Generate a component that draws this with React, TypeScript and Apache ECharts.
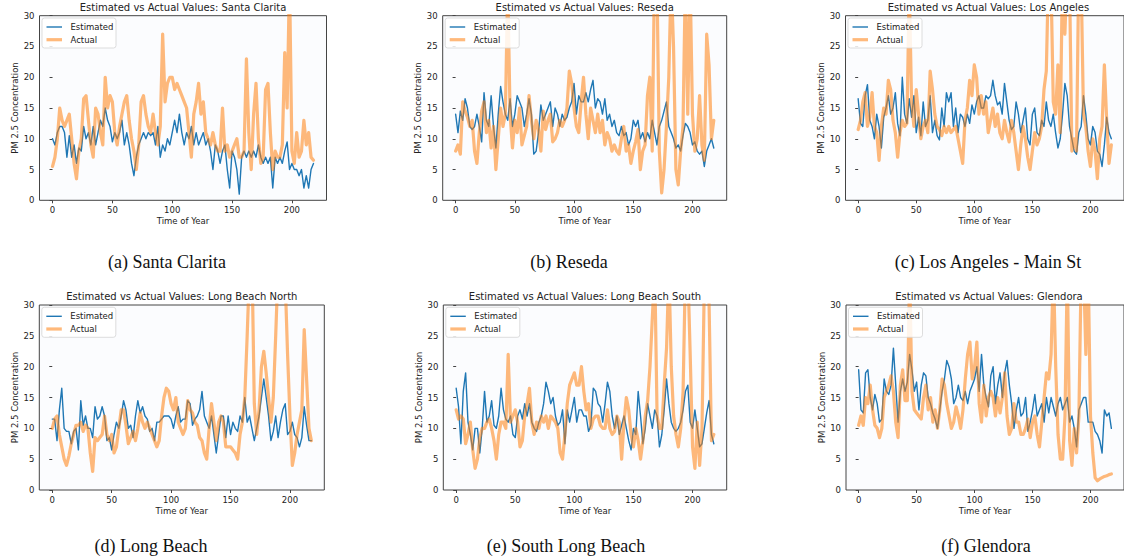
import React, { useEffect, useRef } from 'react';
import * as echarts from 'echarts';

// time step between samples (day index)
const STEP = 2;
const X_TICKS = [0, 50, 100, 150, 200];
const Y_MIN = 0;
const Y_MAX = 30;
const Y_INTERVAL = 5;

// (a) Santa Clarita
const EST_A = [
  10, 9, 11, 12, 12, 11, 7, 10.5, 7, 9,
  6, 8.5, 8, 12, 10, 11, 9, 12, 9, 11,
  13, 12, 15, 13, 12, 9.5, 11, 10, 11, 13,
  9, 11, 9, 6, 4, 7, 9, 10, 11, 10,
  11, 10.5, 11, 9, 12, 7, 9, 8, 10, 9,
  11, 13, 11, 14, 11, 9, 11, 10, 12, 9,
  11, 9, 10, 11, 9, 10, 8, 5, 9, 8,
  6, 8, 9, 5, 2, 8, 7, 5, 1, 7,
  8, 7, 8, 7, 8, 7, 9, 7, 6, 7,
  6, 7, 2, 7, 6, 7, 6, 8, 9.5, 5,
  6, 5, 5, 4, 5, 2, 4, 2, 5, 6,
];
const ACT_A = [
  5.5, 7, 10, 15, 13, 12, 13, 14, 10, 6,
  3.5, 8, 10, 16.5, 17, 13, 9, 7, 15, 14,
  11, 9, 20, 15, 17, 16, 11, 9, 12, 14,
  16, 17, 13, 10, 8, 5, 9, 16, 17, 14,
  12, 11, 14, 11, 9, 12, 27, 16, 19, 20,
  20, 18, 19, 18, 17, 16, 15, 11, 7, 14,
  16, 19, 14, 16, 11, 10, 9, 11, 9, 8,
  8, 15, 8, 9, 7, 8, 9, 10, 7, 7,
  8, 23, 11, 5, 14, 19, 10, 6, 7, 18,
  19, 11, 5, 8, 7, 7, 9, 24, 15, 36,
  8, 6, 11, 7, 8, 13, 9, 11, 7, 6.5,
];

// (b) Reseda
const EST_B = [
  14, 11, 14.5, 13, 16.5, 15, 12, 11.5, 12, 14,
  12, 9.5, 17.5, 13, 12, 17, 12, 8.5, 14, 18.5,
  16, 14, 13, 16.5, 12, 14, 17, 16, 15, 12,
  14, 16.5, 14, 7.5, 8, 11, 15.5, 13, 14, 15,
  16, 12, 15, 14, 12, 14, 13, 13.5, 15, 16,
  19, 14, 17, 16, 16, 17.5, 16, 18, 19.5, 15,
  16.5, 16, 14, 16.5, 13, 14, 12, 13, 11, 10.5,
  12, 10.5, 11, 9, 10, 13, 12, 13, 10, 11,
  9.5, 11, 10, 13, 11, 9, 12, 13, 14.5, 16,
  12, 11, 10, 8.5, 9, 8, 10.5, 12.5, 12, 11,
  9, 9.5, 8, 7.5, 8, 5.5, 8, 9, 10, 8.5,
];
const ACT_B = [
  8, 9, 7.5, 16, 14.5, 13.5, 12, 13, 8, 6,
  11, 14.5, 16, 11, 13, 8.5, 12, 5, 10, 15,
  12, 14, 35, 14, 8.5, 13, 11, 15, 9, 10.5,
  12, 17, 13, 10, 13, 11.5, 8, 14.5, 11.5, 13,
  14, 9.5, 10, 11, 13, 12, 13, 15, 21, 19,
  15, 12, 11, 16, 20, 14, 10, 15, 13, 11,
  14, 11, 13, 9, 11, 10, 8, 9, 8, 7.5,
  10, 12, 8, 9, 6, 8, 9.5, 11.5, 5, 8,
  9, 17, 20, 8, 38, 36, 8, 1.2, 5, 12,
  20, 36, 25, 5, 2.5, 8, 12, 36, 14, 36,
  14, 8, 10, 17, 9, 6.5, 27, 22, 10, 13,
];

// (c) Los Angeles - Main St
const EST_C = [
  16.5, 12.5, 12, 17, 18.8, 13, 12, 10, 14, 12,
  8.5, 13.5, 15, 17, 14, 15, 17.5, 12.5, 10.5, 20,
  14, 12.5, 16.5, 13.5, 17, 11, 13.5, 10.5, 16, 12,
  13, 17, 11, 13, 10.5, 9.8, 15, 12, 17.5, 16,
  17.5, 12, 15, 11, 14, 13.5, 12, 14, 12.5, 15.5,
  14, 16, 17, 15, 15, 17, 16.5, 17, 19.5, 17,
  15.5, 16, 14, 19, 16, 13, 11.5, 12, 16, 14,
  11, 13, 15, 10, 9, 14, 15, 11, 10.5, 13,
  12, 16, 13, 12, 14, 11, 8.5, 10, 14, 19,
  17, 12, 10, 8, 7.5, 11, 12, 17, 14, 10,
  9, 12, 11, 8, 7.5, 5.5, 9, 13.5, 11, 10,
];
const ACT_C = [
  11.5, 13, 16, 17.5, 12, 13.5, 17.5, 12, 11, 6.5,
  12, 15, 14, 19.5, 18, 13, 11, 7, 11, 13,
  12, 12.5, 35, 16, 12, 18, 14, 10, 12, 13,
  11, 21, 18, 14, 12, 11.5, 10.5, 12, 11, 12,
  11, 11.5, 12, 10, 8, 6, 13, 15, 19.5, 17,
  22, 20, 14, 17, 14, 16, 11, 13, 15, 12,
  14, 11, 10, 13, 11, 9.5, 13, 11, 8, 5,
  9, 12, 10, 7, 5, 8, 11, 9, 10, 12,
  18, 21, 38, 36, 16, 14, 22, 11, 38, 27,
  38, 36, 8, 10, 8, 38, 36, 14, 12, 8,
  5.5, 10, 8, 3.5, 10, 12, 22, 13, 6, 9,
];

// (d) Long Beach
const EST_D = [
  11.5, 11.5, 8, 13, 16.5, 10, 9.5, 9.5, 7.5, 9.5,
  10, 6.5, 14.5, 10.5, 12, 10, 10, 8.5, 13.5, 11.5,
  12, 13.5, 12, 8, 8.5, 6.5, 9, 11, 10, 12,
  14.5, 13, 10, 10.5, 8.5, 12, 14.5, 12.5, 13.5, 12,
  11.5, 9.5, 10, 8, 11, 11, 11.5, 12, 12, 12,
  11.5, 10, 12, 13.5, 11, 11.5, 11.5, 14.5, 14, 10.5,
  11.5, 12, 13, 16, 12, 11, 10, 12, 9, 6,
  9, 12, 12, 8.5, 12, 9, 11, 10, 9.5, 12,
  11, 15, 11, 12, 10, 8, 10, 12, 15, 18,
  15, 12, 8, 9.5, 12, 8.5, 11, 13, 14, 9,
  9.5, 11, 9, 8.5, 7, 8.5, 13.5, 10.5, 8, 8,
];
const ACT_D = [
  10, 11.5, 12, 9, 7, 5, 4, 5.5, 7.5, 9,
  10.5, 10.5, 11, 9.5, 10.5, 10, 6, 3, 8.5, 8,
  8.5, 9, 12, 9, 8, 9, 6, 7, 10, 13,
  13, 10.5, 7.5, 8.5, 9.5, 8, 10, 12.5, 11, 10,
  11, 10, 9, 8, 7, 8, 12, 15, 16.5, 16,
  14, 13, 15, 11, 10, 9, 10, 14.5, 13, 12.5,
  11, 10.5, 8.5, 8, 6, 5, 10, 14, 11, 8,
  11, 12, 11, 7, 7, 7, 6.5, 6, 5, 9,
  11, 15, 25, 36, 38, 14, 9, 13, 20, 22.5,
  19, 15, 11, 15, 25, 36, 38, 36, 34, 22,
  12, 4, 6, 9, 11, 13, 26, 18, 10, 8,
];

// (e) South Long Beach
const EST_E = [
  16.5, 13.5, 7.5, 16, 19, 11, 9, 6.5, 10, 10,
  6, 10, 16, 11, 12, 14.5, 10.5, 10, 12, 16.5,
  13, 11.5, 11, 12, 9, 8.5, 12, 13, 11.5, 14,
  12, 14, 11, 10, 9.5, 11, 12, 14, 17.5, 16,
  14, 15, 12, 10.5, 11, 13, 7.5, 13, 11, 13,
  15, 11, 13, 13, 12, 12, 9.5, 10.5, 16.5, 16,
  14, 13.5, 11, 14, 17.5, 16, 12, 10, 12, 9,
  10.5, 12, 10, 8, 6.5, 10, 9, 16, 12, 7.5,
  10, 14, 12, 10, 13, 12, 7, 9, 13, 18,
  14, 11, 10, 9.5, 10, 11, 13, 16, 17, 11,
  10, 13, 10, 7, 7.5, 10, 12.5, 14.5, 9, 7.5,
];
const ACT_E = [
  13, 11.5, 12, 11.5, 7.5, 9, 11, 6.5, 3.5, 5,
  8.5, 10, 10, 11, 11.5, 10, 8, 5, 9, 11,
  11, 10, 22, 11, 12, 13, 11, 7, 8, 12,
  14, 16.5, 11, 9, 11, 10, 12, 11, 12, 10,
  12, 11.5, 11, 10, 6, 5, 9, 14, 17, 18,
  19, 17, 17, 20, 16, 13, 14, 10, 11.5, 12,
  12, 10.5, 10, 10, 13, 10, 9, 9.5, 12, 11,
  5, 11, 15, 13, 9, 7, 10, 8, 5, 8,
  12, 14.5, 20, 28, 36, 12, 10, 10, 17, 23,
  36, 20, 12, 9, 7, 10, 16, 36, 36, 22,
  7, 3.5, 11, 4, 10, 34, 38, 30, 8, 9,
];

// (f) Glendora
const EST_F = [
  19.5, 13, 12.5, 19, 19.5, 15, 13, 15.5, 14, 11,
  11.5, 18, 16, 15.5, 17, 23, 17, 11, 16, 18,
  16, 17.5, 22, 19.5, 16, 17.5, 13, 17, 19, 18.5,
  15, 14, 12.5, 11.5, 10, 13, 16, 18, 21, 20,
  18, 14, 15, 17, 15, 14.5, 16, 14, 16, 17,
  18, 20, 16, 22, 17, 15, 13.5, 18.5, 20, 14,
  17, 19, 15, 19, 21, 17, 14, 10, 13, 15,
  12, 12.5, 15, 9.5, 11, 13, 15.5, 12, 13, 14,
  11, 15, 12.5, 15, 13.5, 12, 14, 15, 13, 14,
  15, 11, 12, 10, 7, 13, 14, 15, 15, 11,
  11, 11, 9.5, 9, 8, 6, 13, 12, 12.5, 10,
];
const ACT_F = [
  10.5, 12, 10.5, 15, 14, 17, 13, 10.5, 10, 8.5,
  10, 15, 16, 17, 18.5, 16, 11, 8.5, 17, 19.5,
  14.5, 14.5, 35, 16, 13, 12.5, 12, 11.5, 15, 17,
  13, 15, 11, 13, 10, 13, 18, 17, 14, 12,
  10, 11, 13.5, 12, 10, 13, 18, 22, 24, 18,
  20, 24, 14, 11, 17, 12, 15, 16, 15, 12,
  15, 12.5, 15, 19, 12, 9, 10, 14, 11, 11,
  9, 9, 10, 11.5, 8.5, 11, 12, 9, 7, 11,
  15, 19, 18, 22, 36, 20, 9, 5, 5, 12,
  36, 8, 4, 10, 6, 12, 36, 36, 22, 36,
  12, 6, 2, 1.5, 1.8, 2, 2.2, 2.3, 2.5, 2.6,
];

const PANELS = [
  { title: 'Estimated vs Actual Values: Santa Clarita', caption: '(a) Santa Clarita', est: EST_A, act: ACT_A },
  { title: 'Estimated vs Actual Values: Reseda', caption: '(b) Reseda', est: EST_B, act: ACT_B },
  { title: 'Estimated vs Actual Values: Los Angeles', caption: '(c) Los Angeles - Main St', est: EST_C, act: ACT_C },
  { title: 'Estimated vs Actual Values: Long Beach North', caption: '(d) Long Beach', est: EST_D, act: ACT_D },
  { title: 'Estimated vs Actual Values: Long Beach South', caption: '(e) South Long Beach', est: EST_E, act: ACT_E },
  { title: 'Estimated vs Actual Values: Glendora', caption: '(f) Glendora', est: EST_F, act: ACT_F },
];

const LAYOUT = [
  { left: 39.5, top: 15.7, width: 287, height: 184.6, capX: 167, capY: 262 },
  { left: 442.7, top: 15.7, width: 284, height: 184.6, capX: 569, capY: 262 },
  { left: 845.5, top: 15.7, width: 286, height: 184.6, capX: 988, capY: 262 },
  { left: 39.3, top: 305, width: 285, height: 185, capX: 151, capY: 546 },
  { left: 443.3, top: 305, width: 283.4, height: 185, capX: 566, capY: 546 },
  { left: 846, top: 305, width: 286, height: 185, capX: 986, capY: 546 },
];

const SANS = 'DejaVu Sans';
const SERIF = '"Liberation Serif", "Times New Roman", serif';
const BLUE = '#1f77b4';
const ORANGE = '#ff7f0e';
const AXIS = '#444';
const TXT = '#222';

function buildOption() {
  const grid: any[] = [];
  const xAxis: any[] = [];
  const yAxis: any[] = [];
  const series: any[] = [];
  const graphic: any[] = [];

  PANELS.forEach((p, i) => {
    const L = LAYOUT[i];
    grid.push({
      left: L.left, top: L.top, width: L.width, height: L.height,
      show: true, borderColor: AXIS, borderWidth: 1, backgroundColor: '#fbfcfe',
    });
    xAxis.push({
      type: 'value', gridIndex: i, min: -10.9, max: 228.9,
      axisLine: { show: false },
      axisTick: { show: true, length: 3, customValues: X_TICKS, lineStyle: { color: AXIS } },
      axisLabel: { customValues: X_TICKS, fontSize: 8.5, color: TXT, fontFamily: SANS, margin: 5 },
      splitLine: { show: false },
      name: 'Time of Year', nameLocation: 'middle', nameGap: 16,
      nameTextStyle: { fontSize: 8.5, color: TXT, fontFamily: SANS },
    });
    yAxis.push({
      type: 'value', gridIndex: i, min: Y_MIN, max: Y_MAX, interval: Y_INTERVAL,
      axisLine: { show: false },
      axisTick: { show: true, length: 3, lineStyle: { color: AXIS } },
      axisLabel: { fontSize: 8.5, color: TXT, fontFamily: SANS, margin: 5 },
      splitLine: { show: false },
      name: 'PM 2.5 Concentration', nameLocation: 'middle', nameGap: 20,
      nameTextStyle: { fontSize: 8.5, color: TXT, fontFamily: SANS },
    });
    series.push({
      type: 'line', name: 'Estimated', xAxisIndex: i, yAxisIndex: i,
      data: p.est.map((v, j) => [j * STEP, v]),
      symbol: 'none', clip: true, z: 2,
      lineStyle: { color: BLUE, width: 1.4, join: 'round', cap: 'round' },
      itemStyle: { color: BLUE },
    });
    series.push({
      type: 'line', name: 'Actual', xAxisIndex: i, yAxisIndex: i,
      data: p.act.map((v, j) => [j * STEP, v]),
      symbol: 'none', clip: true, z: 3,
      lineStyle: { color: ORANGE, width: 3.2, opacity: 0.55, join: 'round', cap: 'round' },
      itemStyle: { color: ORANGE },
    });

    // title
    graphic.push({
      type: 'text', x: L.left + L.width / 2, y: L.top - 8.5, z: 50,
      style: {
        text: p.title, fontSize: 10, fontFamily: SANS, fill: TXT,
        textAlign: 'center', textVerticalAlign: 'middle', align: 'center', verticalAlign: 'middle',
      },
    });
    // legend
    const lx = L.left + 2.5;
    const ly = L.top + 2.3;
    graphic.push({
      type: 'rect', z: 60,
      shape: { x: lx, y: ly, width: 74, height: 30, r: 2.5 },
      style: { fill: 'rgba(255,255,255,0.85)', stroke: '#d4d4d4', lineWidth: 0.8 },
    });
    const rows = [
      { label: 'Estimated', color: BLUE, w: 1.4, op: 1, dy: 9 },
      { label: 'Actual', color: ORANGE, w: 3.2, op: 0.55, dy: 21.7 },
    ];
    rows.forEach((r) => {
      graphic.push({
        type: 'line', z: 61,
        shape: { x1: lx + 4.5, y1: ly + r.dy, x2: lx + 20, y2: ly + r.dy },
        style: { stroke: r.color, lineWidth: r.w, opacity: r.op },
      });
      graphic.push({
        type: 'text', z: 61, x: lx + 28.5, y: ly + r.dy,
        style: {
          text: r.label, fontSize: 8.5, fontFamily: SANS, fill: TXT,
          textAlign: 'left', textVerticalAlign: 'middle', align: 'left', verticalAlign: 'middle',
        },
      });
    });
    // caption
    graphic.push({
      type: 'text', x: L.capX, y: L.capY, z: 50,
      style: {
        text: p.caption, fontSize: 18, fontFamily: SERIF, fill: '#111',
        textAlign: 'center', textVerticalAlign: 'middle', align: 'center', verticalAlign: 'middle',
      },
    });
  });

  return {
    animation: false,
    backgroundColor: '#ffffff',
    grid, xAxis, yAxis, series, graphic,
  };
}

export default function App() {
  const ref = useRef<HTMLDivElement>(null);
  useEffect(() => {
    if (!ref.current) return;
    const chart = echarts.init(ref.current, undefined, { renderer: 'svg' });
    chart.setOption(buildOption() as any);
    return () => chart.dispose();
  }, []);
  return (
    <div
      ref={ref}
      style={{ position: 'absolute', left: 0, top: 0, width: 1124, height: 560, background: '#fff' }}
    />
  );
}
